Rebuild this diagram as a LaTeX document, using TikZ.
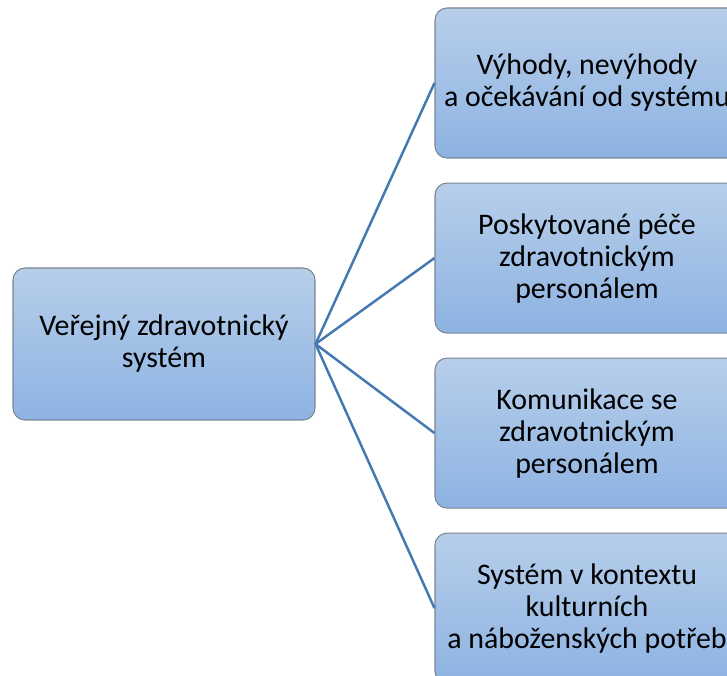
\documentclass[tikz,border=0pt]{standalone}
\usepackage{fontspec}
\setmainfont{Carlito}
\usetikzlibrary{positioning}
\definecolor{boxtop}{HTML}{B7CEEA}
\definecolor{boxbottom}{HTML}{8DB3E2}
\definecolor{boxborder}{HTML}{7A8594}
\definecolor{linkblue}{HTML}{4479B0}
\tikzstyle{topic} = [
  rectangle,
  rounded corners=0.24cm,
  minimum width=6.04cm,
  minimum height=3.0cm,
  align=center,
  draw=boxborder,
  line width=0.6pt,
  top color=boxtop,
  bottom color=boxbottom,
  font=\fontsize{17}{18.2}\selectfont
]
\tikzstyle{link} = [line width=1.4pt, draw=linkblue]

\begin{document}
\begin{tikzpicture}
    \clip (0,0) rectangle (14.54,13.5);
    \node (health-system) [topic, minimum height=3.04cm] at (3.28,6.62) {Veřejný zdravotnický\\systém};
    \node (pros-cons) [topic, minimum width=6.08cm] at (11.74,11.84) {Výhody, nevýhody\\ a očekávání od systému};
    \node (care) [topic, minimum width=6.08cm, below=0.48cm of pros-cons] {Poskytované péče\\zdravotnickým\\personálem};
    \node (communication) [topic, minimum width=6.08cm, below=0.48cm of care] {Komunikace se\\zdravotnickým\\personálem};
    \node (culture) [topic, minimum width=6.08cm, below=0.48cm of communication] {Systém v kontextu\\kulturních\\ a náboženských potřeb};

    \draw [link] (health-system.east) -- (pros-cons.west);
    \draw [link] (health-system.east) -- (care.west);
    \draw [link] (health-system.east) -- (communication.west);
    \draw [link] (health-system.east) -- (culture.west);
  \end{tikzpicture}
\end{document}
